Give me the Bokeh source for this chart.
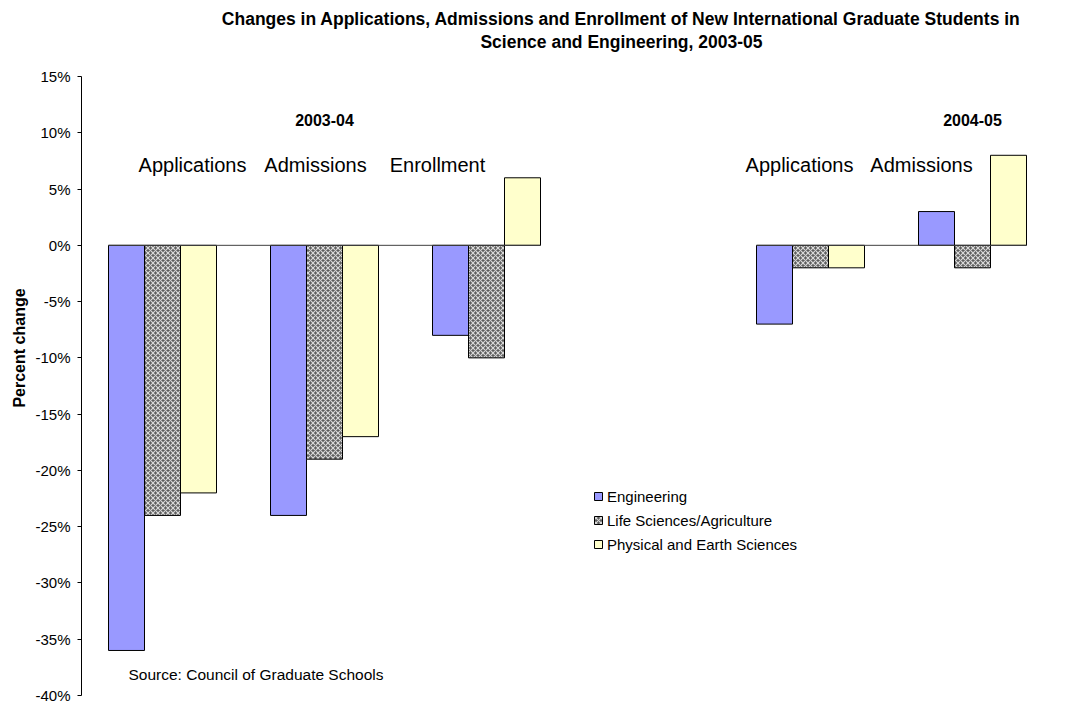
from bokeh.plotting import figure
from bokeh.models import Label, Legend, LegendItem, ColumnDataSource, Range1d
from bokeh.embed import file_html
from bokeh.resources import INLINE

# ---------------- data ----------------
title_lines = [
    "Changes in Applications, Admissions and Enrollment of New International Graduate Students in",
    "Science and Engineering, 2003-05",
]
periods = ["2003-04", "2004-05"]
period_of = ["2003-04", "2003-04", "2003-04", "2004-05", "2004-05"]
categories = ["Applications", "Admissions", "Enrollment", "Applications", "Admissions"]
engineering = [-36, -24, -8, -7, 3]
life_sciences = [-24, -19, -10, -2, -2]
physical_earth = [-22, -17, 6, -2, 8]
series_names = ["Engineering", "Life Sciences/Agriculture", "Physical and Earth Sciences"]
y_ticks = [-40, -35, -30, -25, -20, -15, -10, -5, 0, 5, 10, 15]
y_tick_labels = ["-40%", "-35%", "-30%", "-25%", "-20%", "-15%", "-10%", "-5%", "0%", "5%", "10%", "15%"]
y_label = "Percent change"
source_note = "Source: Council of Graduate Schools"

# ---------------- layout helpers ----------------
FONT = "Liberation Sans"
H = 703
TOP_PX = 76          # pixel row of the 15% tick
BOTTOM_BORDER = 8    # pixels below the -40% tick
y_lo, y_hi = y_ticks[0], y_ticks[-1]
px_per_unit = (H - BOTTOM_BORDER - TOP_PX) / (y_hi - y_lo)
y_top = y_hi + TOP_PX / px_per_unit   # frame extends up to the canvas top (room for title)

slots = [i + (1 if period_of[i] == periods[1] else 0) for i in range(len(categories))]
centers = [s + 0.5 for s in slots]
bar_w = 2.0 / 9.0
offsets = [-bar_w, 0.0, bar_w]
series_values = [engineering, life_sciences, physical_earth]

p = figure(width=1056, height=H, x_range=Range1d(0, 6), y_range=Range1d(y_lo, y_top),
           output_backend="svg", toolbar_location=None, x_axis_location=None, title=None,
           min_border_left=81, min_border_right=3, min_border_top=0, min_border_bottom=BOTTOM_BORDER)
p.outline_line_color = None
p.grid.visible = False
p.background_fill_color = "white"
p.border_fill_color = "white"

styles = [
    dict(fill_color="#9999FF"),
    dict(fill_color="#5E5E5E", hatch_pattern="diagonal_cross", hatch_color="#D8D8D8",
         hatch_scale=5, hatch_weight=1.2),
    dict(fill_color="#FFFFCC"),
]

renderers = []
for k, vals in enumerate(series_values):
    src = ColumnDataSource(dict(x=[c + offsets[k] for c in centers], top=vals))
    r = p.vbar(x="x", top="top", bottom=0, width=bar_w, source=src,
               line_color="black", line_width=1, **styles[k])
    renderers.append(r)

# zero line spanning each period's bars
seg_x0, seg_x1 = [], []
for per in periods:
    cs = [centers[i] for i in range(len(categories)) if period_of[i] == per]
    seg_x0.append(min(cs) - 1.5 * bar_w)
    seg_x1.append(max(cs) + 1.5 * bar_w)
p.segment(x0=seg_x0, y0=[0] * len(periods), x1=seg_x1, y1=[0] * len(periods),
          line_color="#404040", line_width=1)

# y axis (only spans the value range)
ax = p.yaxis[0]
ax.bounds = (y_lo, y_hi)
ax.ticker = y_ticks
ax.major_label_overrides = {t: l for t, l in zip(y_ticks, y_tick_labels)}
ax.major_tick_out = 4
ax.major_tick_in = 0
ax.minor_tick_line_color = None
ax.axis_line_color = "black"
ax.major_tick_line_color = "black"
ax.major_label_text_font = FONT
ax.major_label_text_font_size = "15px"
ax.major_label_text_color = "black"
ax.major_label_standoff = 7
ax.axis_label = y_label
ax.axis_label_text_font = FONT
ax.axis_label_text_font_style = "bold"
ax.axis_label_text_font_size = "16px"
ax.axis_label_text_color = "black"
ax.axis_label_standoff = 4

# title (two centred lines)
title_center_x = 3.333
for line, px in zip(title_lines, [18, 41]):
    p.add_layout(Label(x=title_center_x, y=y_hi + (TOP_PX - px) / px_per_unit, text=line,
                       text_align="center", text_baseline="middle",
                       text_font=FONT, text_font_style="bold", text_font_size="17.5px",
                       text_color="black"))

# period headers
period_center_slot = {periods[0]: 1, periods[1]: 4}
for per in periods:
    p.add_layout(Label(x=centers[period_center_slot[per]], y=11.1, text=per,
                       text_align="center", text_baseline="middle", text_font=FONT,
                       text_font_style="bold", text_font_size="16px", text_color="black"))

# category labels
label_px_offset = [30, -9, -49, -11, -51]
for i, cat in enumerate(categories):
    p.add_layout(Label(x=centers[i], y=7.1, x_offset=label_px_offset[i], text=cat,
                       text_align="center", text_baseline="middle", text_font=FONT,
                       text_font_size="20px", text_color="black"))

# source
p.add_layout(Label(x=0.29, y=-38.15, text=source_note, text_align="left", text_baseline="middle",
                   text_font=FONT, text_font_size="15.5px", text_color="black"))

legend = Legend(items=[LegendItem(label=n, renderers=[r]) for n, r in zip(series_names, renderers)],
                location=(512, 141), padding=0, margin=0, spacing=4, label_height=20,
                glyph_width=10, glyph_height=10, label_standoff=4,
                label_text_font=FONT, label_text_font_size="15px", label_text_color="black",
                border_line_color=None, background_fill_alpha=0)
p.add_layout(legend)

open("out.html", "w").write(file_html(p, INLINE))
